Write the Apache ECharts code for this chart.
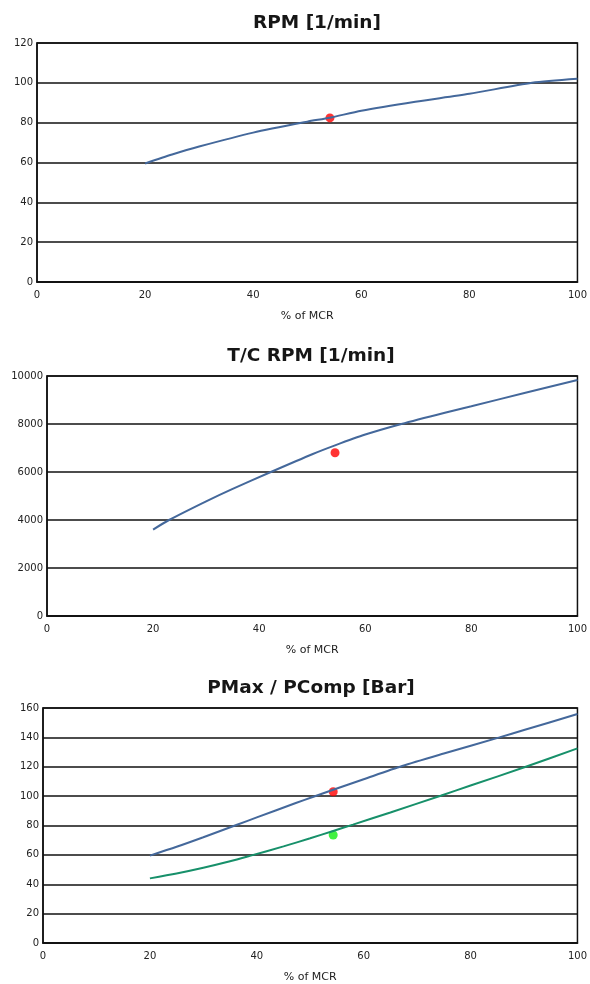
<!DOCTYPE html>
<html>
<head>
<meta charset="utf-8">
<script src="https://cdn.jsdelivr.net/npm/echarts@6/dist/echarts.min.js"></script>
<style>
  html, body { margin: 0; padding: 0; background: #ffffff; overflow: hidden; }
  #chart { width: 590px; height: 984px; }
</style>
</head>
<body>
<div id="chart"></div>
<script>
// Engine load (% of MCR) against main engine speed
const rpmLoad = [20, 25, 30, 40, 50, 54.2, 60, 70, 80, 91.6, 100];
const rpmValues = [59.5, 64, 68, 75, 80.5, 82.5, 86, 90.5, 94.5, 100, 102];
const rpmMeasured = [[54.2, 82.4]];

// Turbocharger speed
const tcLoad = [20, 23, 30, 35, 42.2, 50, 54.3, 60, 66.8, 75, 80, 90, 100];
const tcValues = [3600, 4000, 4780, 5300, 6000, 6740, 7110, 7560, 8000, 8470, 8740, 9290, 9830];
const tcMeasured = [[54.3, 6800]];

// Max combustion pressure and compression pressure
const pmaxLoad = [20, 25, 30, 36.3, 40, 47.3, 50.6, 54.3, 60, 67.2, 75, 85.4, 90, 100];
const pmaxValues = [59.5, 65.5, 72, 80.5, 85.5, 95.3, 99.6, 104.3, 111.5, 120.5, 129, 140, 145, 155.9];
const pcompLoad = [20, 25, 30, 35, 38.7, 45, 50, 54.3, 58, 65, 74.4, 80, 90.2, 100];
const pcompValues = [44, 47.3, 51.2, 55.6, 59.3, 65.8, 71.3, 76.3, 80.6, 88.9, 100.3, 107.2, 119.8, 132.5];
const pmaxMeasured = [[54.3, 103]];
const pcompMeasured = [[54.3, 73.5]];

const xTicks = { min: 0, max: 100, interval: 20 };

const LABEL_FONT = '"DejaVu Sans", "Liberation Sans", Arial, sans-serif';
const TITLE_FONT = '"DejaVu Sans", "Liberation Sans", Arial, sans-serif';
const BLUE = '#44689b';
const GREEN = '#17906a';

function pairs(xs, ys) { return xs.map((x, i) => [x, ys[i]]); }

const grids = [
  { left: 37, top: 43, width: 546, height: 239 },
  { left: 47, top: 376, width: 536, height: 240 },
  { left: 43, top: 708, width: 543, height: 239 }
];
const yScales = [
  { min: 0, max: 120, interval: 20 },
  { min: 0, max: 10000, interval: 2000 },
  { min: 0, max: 160, interval: 20 }
];
const titles = ['RPM [1/min]', 'T/C RPM [1/min]', 'PMax / PComp [Bar]'];
const titleTops = [9, 342, 674];
const titleCenters = [312, 306, 306];

const option = {
  backgroundColor: '#ffffff',
  animation: false,
  title: titles.map((t, i) => ({
    text: t,
    left: titleCenters[i],
    textAlign: 'center',
    top: titleTops[i],
    textStyle: { fontFamily: TITLE_FONT, fontSize: 18.5, fontWeight: 'bold', color: '#161616' }
  })),
  grid: grids.map(g => Object.assign({
    show: true, borderColor: '#111111', borderWidth: 1.5, backgroundColor: '#ffffff'
  }, g)),
  xAxis: grids.map((g, i) => ({
    type: 'value',
    gridIndex: i,
    min: xTicks.min, max: xTicks.max, interval: xTicks.interval,
    name: '% of MCR',
    nameLocation: 'middle',
    nameGap: 29,
    nameTextStyle: { fontFamily: LABEL_FONT, fontSize: 11, color: '#222222' },
    axisLine: { lineStyle: { color: '#111111', width: 1.5 } },
    axisTick: { show: false },
    splitLine: { show: false },
    axisLabel: { fontFamily: LABEL_FONT, fontSize: 10, color: '#222222', margin: 8 }
  })),
  yAxis: grids.map((g, i) => ({
    type: 'value',
    gridIndex: i,
    min: yScales[i].min, max: yScales[i].max, interval: yScales[i].interval,
    axisLine: { lineStyle: { color: '#111111', width: 1.5 } },
    axisTick: { show: false },
    splitLine: { show: true, lineStyle: { color: '#111111', width: 1.5 } },
    axisLabel: {
      fontFamily: LABEL_FONT, fontSize: 10, color: '#222222', margin: 4,
      formatter: v => String(v)
    }
  })),
  series: [
    { type: 'line', xAxisIndex: 0, yAxisIndex: 0, data: pairs(rpmLoad, rpmValues), smooth: 0.25,
      showSymbol: false, lineStyle: { color: BLUE, width: 2 } },
    { type: 'scatter', xAxisIndex: 0, yAxisIndex: 0, data: rpmMeasured, symbolSize: 9,
      itemStyle: { color: '#ff0000' } },
    { type: 'line', xAxisIndex: 1, yAxisIndex: 1, data: pairs(tcLoad, tcValues), smooth: 0.25,
      showSymbol: false, lineStyle: { color: BLUE, width: 2 } },
    { type: 'scatter', xAxisIndex: 1, yAxisIndex: 1, data: tcMeasured, symbolSize: 9,
      itemStyle: { color: '#ff0000' } },
    { type: 'line', xAxisIndex: 2, yAxisIndex: 2, data: pairs(pmaxLoad, pmaxValues), smooth: 0.25,
      showSymbol: false, lineStyle: { color: BLUE, width: 2 } },
    { type: 'line', xAxisIndex: 2, yAxisIndex: 2, data: pairs(pcompLoad, pcompValues), smooth: 0.25,
      showSymbol: false, lineStyle: { color: GREEN, width: 2 } },
    { type: 'scatter', xAxisIndex: 2, yAxisIndex: 2, data: pmaxMeasured, symbolSize: 9,
      itemStyle: { color: '#ff0000' } },
    { type: 'scatter', xAxisIndex: 2, yAxisIndex: 2, data: pcompMeasured, symbolSize: 9,
      itemStyle: { color: '#11ee11' } }
  ]
};

echarts.init(document.getElementById('chart'), null, { renderer: 'canvas' }).setOption(option);
</script>
</body>
</html>
